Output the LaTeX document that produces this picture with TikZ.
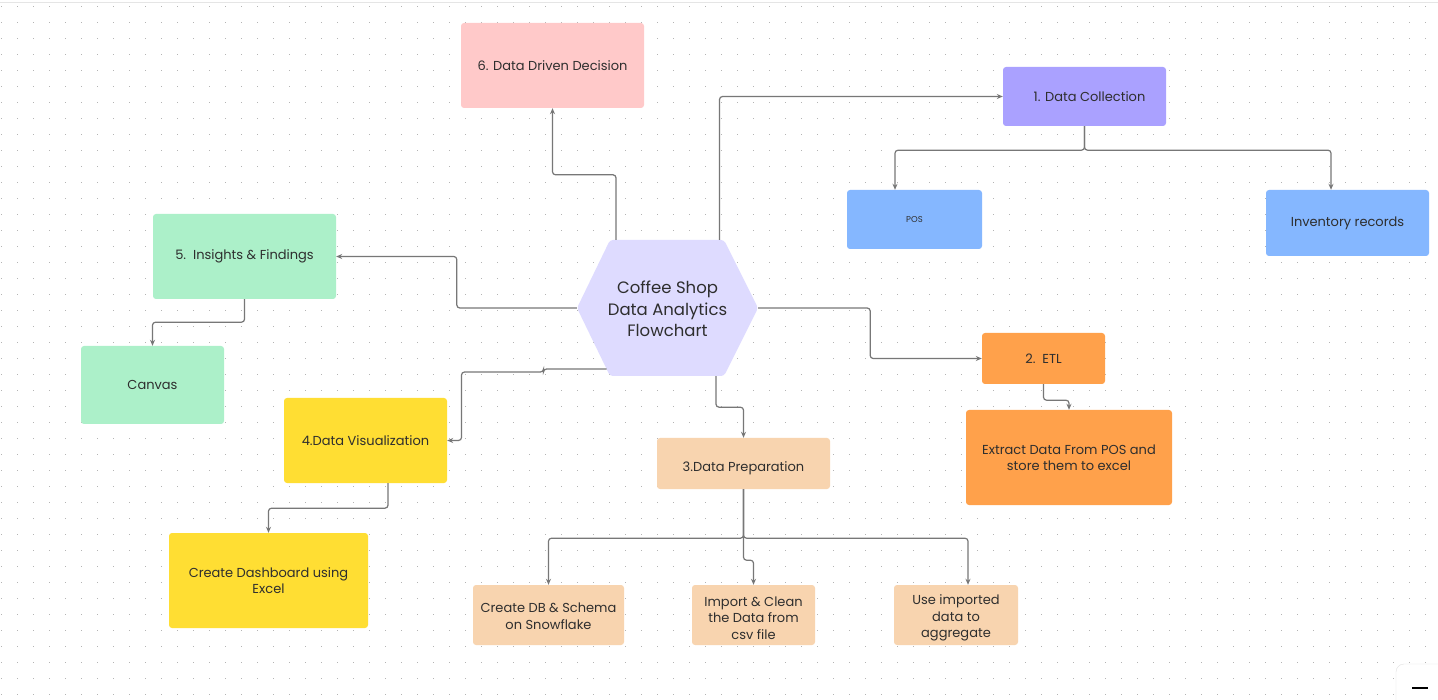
\documentclass[tikz,border=0pt]{standalone}
\usepackage{fontspec}
\setmainfont{Poppins}
\usetikzlibrary{calc,arrows.meta}
\definecolor{dotc}{HTML}{B4B4B4}
\definecolor{linkc}{HTML}{777777}
\definecolor{txtc}{HTML}{2E2E2E}
\definecolor{pinkc}{HTML}{FFC9C9}
\definecolor{purplec}{HTML}{AAA1FF}
\definecolor{bluec}{HTML}{85B7FF}
\definecolor{greenc}{HTML}{ACF0C9}
\definecolor{hexc}{HTML}{DEDBFF}
\definecolor{orangec}{HTML}{FFA14B}
\definecolor{yellowc}{HTML}{FFDE33}
\definecolor{peachc}{HTML}{F8D4AF}
\begin{document}
\begin{tikzpicture}[x=1pt,y=-1pt,
  card/.style={rectangle,rounded corners=3pt,align=center,text=txtc,inner sep=2pt,
    font=\fontsize{13}{16.5}\selectfont},
  link/.style={draw=linkc,line width=1.2pt,rounded corners=3pt,-{Stealth[length=6pt,width=5pt]}}]
\useasboundingbox (0,0) rectangle (1438,700);
\fill[white] (0,0) rectangle (1438,700);
\draw[black!10,line width=1pt] (0,3) -- (1438,3);
\foreach \i in {0,...,89}{ \foreach \j in {0,...,43}{ \fill[dotc] (1+16*\i,6+16*\j) rectangle ++(1.2,1.2); } }
% hexagon in the middle
\node[minimum width=181pt,minimum height=136pt] (hub) at (667.5,308) {};
\fill[hexc,rounded corners=3pt] (577,308) -- (610,240) -- (724,240) -- (758,308) -- (724,376) -- (610,376) -- cycle;
\node[align=center,text=txtc,font=\fontsize{16.5}{21.5}\selectfont] at ($(hub)+(0,1)$) {Coffee Shop\\Data Analytics\\Flowchart};
% boxes
\node[card,fill=pinkc,minimum width=183pt,minimum height=85pt] (decision) at (552.5,65.5) {6. Data Driven Decision};
\node[card,fill=purplec,minimum width=163pt,minimum height=59pt] (dcollect) at (1084.5,96.5) {\hspace{10pt}1. Data Collection};
\node[card,fill=bluec,minimum width=135pt,minimum height=59pt,font=\fontsize{8.5}{10}\selectfont] (pos) at (914.5,219.5) {POS};
\node[card,fill=bluec,minimum width=163pt,minimum height=66pt] (inventory) at (1347.5,223) {Inventory records};
\node[card,fill=greenc,minimum width=183pt,minimum height=85pt] (insights) at (244.5,256.5) {5.\ \ Insights \& Findings};
\node[card,fill=greenc,minimum width=143pt,minimum height=78pt] (canvas) at (152.5,385) {Canvas};
\node[card,fill=orangec,minimum width=123pt,minimum height=51pt] (etl) at (1043.5,358.5) {2.\ \ ETL};
\node[card,fill=orangec,minimum width=206pt,minimum height=95pt] (extract) at (1069,457.5) {Extract Data From POS and\\store them to excel};
\node[card,fill=yellowc,minimum width=163pt,minimum height=85pt] (visual) at (365.5,440.5) {4.Data Visualization};
\node[card,fill=yellowc,minimum width=199pt,minimum height=95pt] (dashboard) at (268.5,580.5) {Create Dashboard using\\Excel};
\node[card,fill=peachc,minimum width=173pt,minimum height=51pt] (prep) at (743.5,463.5) {};
\node[text=txtc,font=\fontsize{13}{16.5}\selectfont] at ($(prep)+(0,5)$) {3.Data Preparation};
\node[card,fill=peachc,minimum width=151pt,minimum height=60pt] (createdb) at (548.5,615) {};
\node[card,fill=peachc,minimum width=123pt,minimum height=60pt] (importclean) at (753.5,615) {};
\node[card,fill=peachc,minimum width=124pt,minimum height=60pt] (aggregate) at (956,615) {};
\node[card] at ($(createdb)+(0,1)$) {Create DB \& Schema\\on Snowflake};
\node[card] at ($(importclean)+(0,3)$) {Import \& Clean\\the Data from\\csv file};
\node[card] at ($(aggregate)+(0,3)$) {Use imported\\data to\\aggregate};
% connectors
\draw[link] ($(hub.north)+(-51.5,0)$) -- ++(0,-65) -| (decision.south);
\draw[link] ($(hub.north)+(52,0)$) |- (dcollect.west);
\draw[link] (dcollect.south) -- ++(0,24) -| ($(pos.north)+(-19.5,0)$);
\draw[link] (dcollect.south) -- ++(0,24) -| ($(inventory.north)+(-16.5,0)$);
\draw[link] (hub.west) -- ++(-120,0) |- (insights.east);
\draw[link] (insights.south) -- ++(0,23) -| (canvas.north);
\draw[link] (hub.east) -- ++(112,0) |- (etl.west);
\draw[link] (etl.south) -- ++(0,16) -| (extract.north);
\draw[link] ($(hub.center)+(-61,61)$) -- ++(-63,0) -- ++(0,3) -- ++(-82,0) |- (visual.east);
\draw[link] ($(hub.south)+(48.5,0)$) -- ++(0,31) -| (prep.north);
\draw[link] (prep.south) -- ++(0,49) -| (createdb.north);
\draw[link] (prep.south) -- ++(0,49) -| ($(aggregate.north)+(12,0)$);
\draw[link] (prep.south) -- ++(0,71) -| (importclean.north);
\draw[link] ($(visual.south)+(22.5,0)$) -- ++(0,25) -| (dashboard.north);
% zoom widget in the corner
\draw[black!12,fill=white,rounded corners=8pt] (1396,664) rectangle (1450,712);
\draw[black,line width=1.6pt] (1412,688) -- (1428,688);
\end{tikzpicture}
\end{document}
